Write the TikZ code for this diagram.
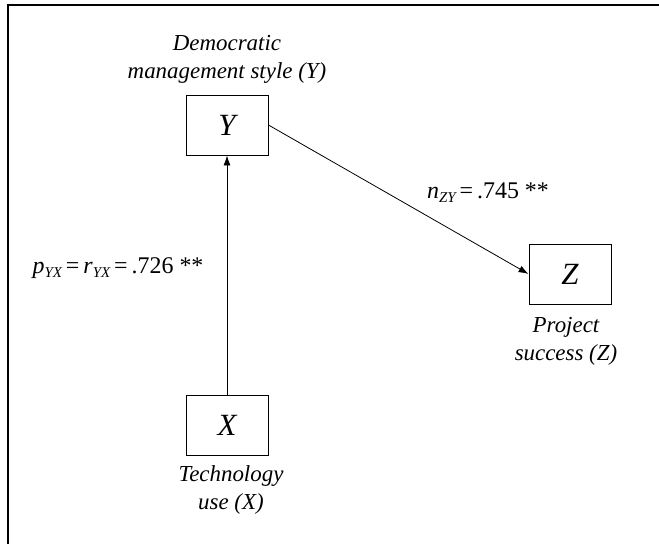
\documentclass[tikz,border=0pt]{standalone}
\usepackage{fontspec}
\setmainfont{Liberation Serif}
\usetikzlibrary{arrows.meta}
\newcommand{\sbs}[1]{\raisebox{-0.35ex}{\fontsize{15}{16}\selectfont\itshape #1}}
\begin{document}
\begin{tikzpicture}[x=1bp,y=-1bp,
  var/.style={draw,line width=0.9bp,minimum width=82bp,minimum height=60bp,inner sep=0pt,font=\fontsize{31}{32}\selectfont\itshape},
  lab/.style={align=center,font=\fontsize{23}{28}\selectfont\itshape,inner sep=0pt},
  coef/.style={font=\fontsize{24}{26}\selectfont,inner sep=0pt},
  arr/.style={line width=0.8bp,-{Latex[length=10bp,width=7bp]}},
  frame/.style={line width=1.8bp}]
\useasboundingbox (0,0) rectangle (659,544);
\draw[frame] (8,544) -- (8,5) -- (659,5);
\node[var] (Y) at (227,125) {Y};
\node[var] (X) at (227,425) {X};
\node[var] (Z) at (570,274) {Z};
\node[lab] (Ylab) at (227,59) {Democratic\\management style (\textit{Y})};
\node[lab] (Zlab) at (566,341) {Project\\success (\textit{Z})};
\node[lab] (Xlab) at (231,490) {Technology\\use (\textit{X})};
\draw[arr] (X.north) -- (Y.south);
\draw[arr] (Y.east) -- (Z.west);
\node[coef] (c1) at (118,268) {\textit{p}\sbs{YX}\,=\,\textit{r}\sbs{YX}\,=\,.726 **};
\node[coef] (c2) at (488,193) {\textit{n}\sbs{ZY}\,=\,.745 **};
\end{tikzpicture}
\end{document}
